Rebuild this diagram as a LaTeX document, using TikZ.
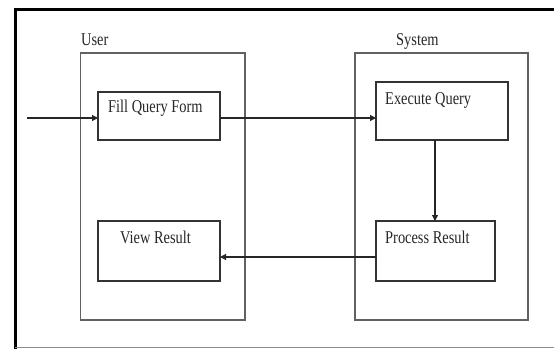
\documentclass[tikz,border=0pt]{standalone}
\usepackage{fontspec}
\setmainfont{Liberation Serif}
\usetikzlibrary{arrows.meta}
\newcommand{\lbltext}[1]{\scalebox{0.8}[1]{#1}}
\begin{document}
\begin{tikzpicture}[x=1pt,y=-1pt,
  lane/.style={draw=black!62,line width=1.3pt},
  box/.style={draw=black!80,line width=1.3pt},
  lbl/.style={anchor=base west,inner sep=0pt,font=\fontsize{18pt}{20pt}\selectfont,text=black!85},
  flow/.style={draw=black!85,line width=1.1pt,-{Triangle[length=6pt,width=6pt]}}]
\useasboundingbox (0,0) rectangle (554,349);
% outer frame
\draw[line width=3pt] (15,349) -- (15,9.5) -- (554,9.5);
\draw[black!45,line width=1pt] (15,347.5) -- (554,347.5);
% lanes
\draw[lane] (80.5,53) rectangle (245,320);
\draw[lane] (355,53) rectangle (528,320);
\node[lbl] (user) at (81,45) {\lbltext{User}};
\node[lbl] (system) at (396,45) {\lbltext{System}};
% boxes
\draw[box] (98,92) rectangle (220,140);
\draw[box] (376,82) rectangle (508,140);
\draw[box] (98,221) rectangle (220,281);
\draw[box] (376,221) rectangle (495,281);
\coordinate (fillW) at (98,118);
\coordinate (fillE) at (220,118);
\coordinate (execW) at (376,118);
\coordinate (execS) at (435,140);
\coordinate (procN) at (435,221);
\coordinate (procW) at (376,257);
\coordinate (viewE) at (220,257);
\coordinate (start) at (27,118);
\node[lbl] (fill) at (108,112.5) {\lbltext{Fill Query Form}};
\node[lbl] (exec) at (385,104) {\lbltext{Execute Query}};
\node[lbl] (view) at (120,243) {\lbltext{View Result}};
\node[lbl] (proc) at (385,243) {\lbltext{Process Result}};
% arrows
\draw[flow] (start) -- (fillW);
\draw[flow] (fillE) -- (execW);
\draw[flow] (execS) -- (procN);
\draw[flow] (procW) -- (viewE);
\end{tikzpicture}
\end{document}
